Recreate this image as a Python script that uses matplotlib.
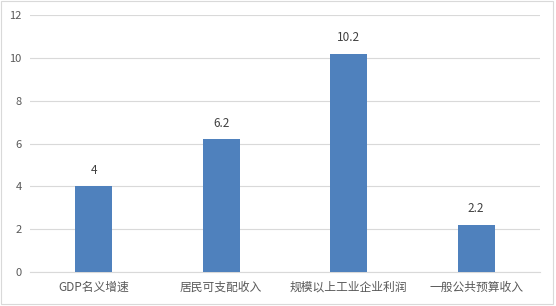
import matplotlib
matplotlib.use('Agg')
import matplotlib.pyplot as plt
from matplotlib.patches import Rectangle

plt.rcParams['font.family'] = ['Noto Sans CJK SC', 'DejaVu Sans']

categories = ['GDP名义增速', '居民可支配收入', '规模以上工业企业利润', '一般公共预算收入']
values = [4, 6.2, 10.2, 2.2]
yticks = [0, 2, 4, 6, 8, 10, 12]

text_color = '#595959'
grid_color = '#D9D9D9'
bar_color = '#4F81BD'

fig = plt.figure(figsize=(5.56, 3.06), dpi=100)
ax = fig.add_axes([0.054, 0.111, 0.917, 0.840])

x = list(range(len(categories)))
bars = ax.bar(x, values, width=0.29, color=bar_color, zorder=3)
for xi, v in zip(x, values):
    ax.text(xi, v + 0.45, f'{v:g}', ha='center', va='bottom',
            fontsize=8.5, color='#404040')

ax.set_xlim(-0.5, len(categories) - 0.5)
ax.set_ylim(0, 12)
ax.set_yticks(yticks)
ax.set_xticks(x)
ax.set_xticklabels(categories)
ax.tick_params(axis='both', length=0, colors=text_color)
ax.tick_params(axis='y', pad=6, labelsize=8)
ax.tick_params(axis='x', pad=6, labelsize=8.5)
ax.yaxis.grid(True, color=grid_color, linewidth=0.8, zorder=0)
for side in ('top', 'right', 'left'):
    ax.spines[side].set_visible(False)
ax.spines['bottom'].set_color(grid_color)
ax.spines['bottom'].set_linewidth(0.8)

# thin frame around the whole chart
fig.patches.append(Rectangle((0.002, 0.008), 0.992, 0.988, transform=fig.transFigure,
                             fill=False, edgecolor='#D9D9D9', linewidth=0.8))

fig.savefig('out.png', dpi=100)
